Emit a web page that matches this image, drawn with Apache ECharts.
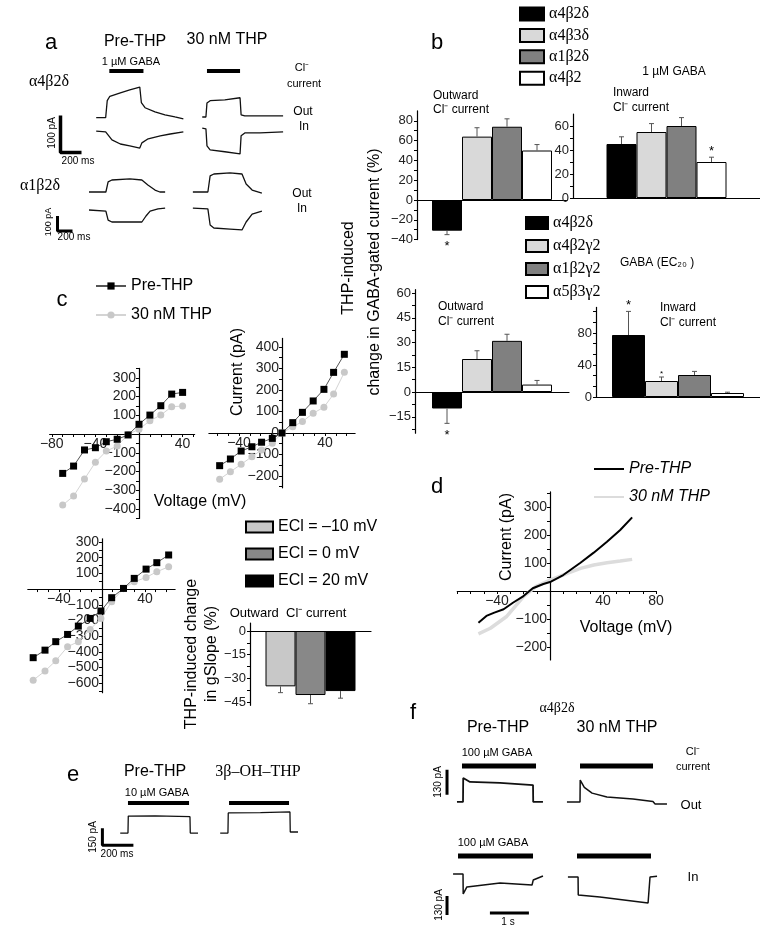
<!DOCTYPE html>
<html>
<head>
<meta charset="utf-8">
<script src="https://cdn.jsdelivr.net/npm/echarts@6/dist/echarts.min.js"></script>
<style>
  html, body { margin: 0; padding: 0; background: #fff; }
  #chart { width: 760px; height: 944px; }
</style>
</head>
<body>
<div id="chart"></div>
<script>
// ---------- data ----------
// panel b, 1 uM GABA
var topGenotypes = ['α4β2δ', 'α4β3δ', 'α1β2δ', 'α4β2'];
var topOutward = [-31, 64, 74, 50];
var topOutwardErr = [4, 9, 8, 6];
var topOutwardSig = [1, 0, 0, 0];
var topInward = [45, 55, 60, 30];
var topInwardErr = [6, 7, 7, 4];
var topInwardSig = [0, 0, 0, 1];
// panel b, GABA EC20
var ecGenotypes = ['α4β2δ', 'α4β2γ2', 'α1β2γ2', 'α5β3γ2'];
var ecOutward = [-10, 20, 31, 4.5];
var ecOutwardErr = [9, 5, 4, 2.5];
var ecOutwardSig = [1, 0, 0, 0];
var ecInward = [77.5, 20, 27.5, 5];
var ecInwardErr = [29.5, 5, 4.5, 1];
var ecInwardSig = [1, 0.5, 0, 0];
// panel c, gSlope
var eclLabels = ['ECl = –10 mV', 'ECl = 0 mV', 'ECl = 20 mV'];
var gSlope = [-35, -40.5, -38];
var gSlopeErr = [4, 5.5, 4.5];

// panel c, I-V curves (mV, pA)
var ivC1Volt = [-70, -60, -50, -40, -30, -20, -10, 0, 10, 20, 30, 40];
var ivC1Pre = [-210, -171, -85, -73, -41, -28, -5, 52, 101, 151, 213, 222];
var ivC1Thp = [-379, -331, -240, -151, -91, -64, -2, 25, 71, 101, 146, 149];
var ivC2Volt = [-58, -48, -38, -28, -19, -9, 0, 10, 19, 29, 39, 48, 58];
var ivC2Pre = [-152, -121, -84, -64, -43, -25, 0, 48, 96, 149, 203, 282, 366];
var ivC2Thp = [-215, -180, -146, -110, -79, -48, 0, 29, 53, 92, 120, 181, 282];
var ivC3Volt = [-64, -53, -43, -32, -22, -11, -1, 9, 20, 30, 41, 51, 62];
var ivC3Pre = [-437, -389, -335, -289, -236, -187, -140, -55, 4, 68, 127, 168, 217];
var ivC3Thp = [-580, -522, -457, -367, -335, -257, -187, -81, 4, 46, 74, 110, 142];
// panel d, ramp I-V
var rampPreVolt = [-54, -48, -42, -35, -28, -20, -13, -5, 0, 10, 23, 33, 43, 53, 62];
var rampPreCur = [-113, -89, -77, -65, -42, -18, 10, 25, 32, 57, 101, 137, 176, 218, 263];
var rampThpVolt = [-54, -45, -33, -20, -10, 0, 13, 23, 33, 43, 53, 62];
var rampThpCur = [-153, -133, -92, -20, 18, 39, 63, 81, 93, 101, 107, 113];

// tick labels
var b1Labels = [-40, -20, 0, 20, 40, 60, 80];
var b1Ticks = [-40, -30, -20, -10, 0, 10, 20, 30, 40, 50, 60, 70, 80];
var b2Labels = [0, 20, 40, 60];
var b2Ticks = [0, 10, 20, 30, 40, 50, 60];
var b3Labels = [-15, 0, 15, 30, 45, 60];
var b3Ticks = [-22.5, -15, -7.5, 0, 7.5, 15, 22.5, 30, 37.5, 45, 52.5, 60];
var b4Labels = [0, 40, 80];
var b4Ticks = [0, 13.3, 26.7, 40, 53.3, 66.7, 80, 93.3, 106.7];
var gsLabels = [0, -15, -30, -45];
var gsTicks = [0, -7.5, -15, -22.5, -30, -37.5, -45];
var c1XLabels = [-80, -40, 40];
var c1YLabels = [-400, -300, -200, -100, 100, 200, 300];
var c2XLabels = [-40, 40];
var c2YLabels = [-200, -100, 0, 100, 200, 300, 400];
var c3XLabels = [-40, 40];
var c3YLabels = [-600, -500, -400, -300, -200, -100, 100, 200, 300];
var dXLabels = [-40, 40, 80];
var dYLabels = [-200, -100, 100, 200, 300];
var mvTicks = [-80, -70, -60, -50, -40, -30, -20, -10, 0, 10, 20, 30, 40, 50, 60, 70, 80];
var paTicks = [-650, -600, -550, -500, -450, -400, -350, -300, -250, -200, -150, -100, -50, 0, 50, 100, 150, 200, 250, 300, 350, 400];

// current traces, [ms, pA]
var traceA1PreOut = [[440,114],[530,114],[545,160],[570,172],[670,181],[760,189],[855,197],[870,155],[905,141],[1000,130],[1095,122],[1190,116],[1270,111]];
var traceA1PreIn = [[440,78],[530,76],[590,54],[670,43],[760,38],[855,32],[875,46],[935,57],[1050,65],[1145,70],[1270,76]];
var traceA1ThpOut = [[1450,116],[1485,116],[1495,154],[1525,160],[1665,162],[1810,168],[1820,122],[1855,119],[2000,119],[2220,119]];
var traceA1ThpIn = [[1450,86],[1485,84],[1495,38],[1525,27],[1665,22],[1810,16],[1820,65],[1855,73],[2000,73],[2220,76]];
var traceA2PreOut = [[520,320],[745,320],[775,387],[825,400],[1065,407],[1225,400],[1305,367],[1400,333],[1465,320],[1535,320]];
var traceA2PreIn = [[520,200],[745,193],[775,133],[825,120],[1065,120],[1225,120],[1280,160],[1335,193],[1440,207],[1535,213]];
var traceA2ThpOut = [[1905,320],[2105,320],[2135,427],[2185,440],[2400,447],[2560,440],[2615,373],[2695,333],[2825,313]];
var traceA2ThpIn = [[1905,213],[2105,207],[2135,100],[2185,80],[2400,73],[2560,67],[2615,120],[2695,173],[2825,193]];
var traceEPre = [[195,238],[245,238],[247,388],[420,390],[645,382],[647,238],[697,238]];
var traceE3b = [[840,238],[890,238],[892,415],[1100,418],[1290,424],[1292,247],[1342,247]];
var traceFOutPre = [[435,42],[590,42],[595,167],[770,146],[1540,141],[2385,130],[2390,42],[2640,42]];
var traceFOutThp = [[3255,42],[3590,42],[3595,156],[3700,118],[3900,88],[4280,68],[4950,57],[5460,44],[5515,31],[5820,31]];
var traceFInPre = [[335,384],[590,384],[595,247],[690,295],[1540,322],[2360,308],[2390,342],[2640,370]];
var traceFInThp = [[3280,363],[3540,363],[3545,240],[4100,226],[5335,185],[5385,363],[5565,368]];

// GABA application bars [start ms, end ms] and scale bars
var gabaA1 = [[565, 890], [1495, 1810]];
var gabaE = [[245, 639], [897, 1284]];
var gabaFOut = [[564, 2462], [3590, 5462]];
var gabaFIn = [[462, 2385], [3513, 5410]];
var scaleA1 = [[100, 120], [100, 20], [300, 20]];
var scaleA2 = [[100, 160], [100, 60], [300, 60]];
var scaleE = [[80, 280], [80, 130], [280, 130]];
var scaleFOut = [[180, 80], [180, 210]];
var scaleFIn = [[180, 103], [180, 233]];
var timeBarFIn = [[1280, 116], [2280, 116]];

// ---------- building ----------
var sans = '"Liberation Sans", Arial, sans-serif';
var serif = '"Liberation Serif", "Times New Roman", serif';
var barColors = ['#000000', '#d9d9d9', '#808080', '#ffffff'];
var gsColors = ['#c8c8c8', '#888888', '#000000'];

var grids = [], xAxes = [], yAxes = [], series = [];

function minus(v) { return String(v).replace('-', '−'); }

function addGrid(box, xa, ya) {
  var gi = grids.length;
  grids.push({ left: box[0], top: box[1], width: box[2], height: box[3] });
  xa.gridIndex = gi;
  ya.gridIndex = gi;
  xAxes.push(xa);
  yAxes.push(ya);
  return gi;
}

function tracePanel(box, xr, yr, lines) {
  var gi = addGrid(box,
    { type: 'value', min: xr[0], max: xr[1], show: false },
    { type: 'value', min: yr[0], max: yr[1], show: false });
  lines.forEach(function (l) {
    series.push({
      type: 'line', xAxisIndex: gi, yAxisIndex: gi, data: l.data,
      symbol: 'none', silent: true, clip: false,
      lineStyle: { color: l.color || '#111', width: l.width || 1.3 }
    });
  });
}

function gabaLines(bars, level, w) {
  return bars.map(function (b) {
    return { data: [[b[0], level], [b[1], level]], width: w, color: '#000' };
  });
}

function errRender(bw, n) {
  return function (params, api) {
    var v = api.value(1), e = api.value(2), sig = api.value(3), i = api.value(4);
    var sgn = v < 0 ? -1 : 1;
    var base = api.coord([0, v]);
    var end = api.coord([0, v + sgn * e]);
    var x = base[0] + (i - (n - 1) / 2) * bw;
    var kids = [
      { type: 'line', shape: { x1: x, y1: base[1], x2: x, y2: end[1] }, style: { stroke: '#555', lineWidth: 1 } },
      { type: 'line', shape: { x1: x - 2.5, y1: end[1], x2: x + 2.5, y2: end[1] }, style: { stroke: '#555', lineWidth: 1 } }
    ];
    if (sig > 0) {
      kids.push({ type: 'text', style: {
        text: '*', x: x, y: end[1] - sgn * (sig < 1 ? 6 : 9) + 3,
        font: (sig < 1 ? 8 : 13) + 'px ' + sans, fill: '#000', align: 'center', verticalAlign: 'middle'
      } });
    }
    return { type: 'group', children: kids };
  };
}

function barChart(box, yr, labels, ticks, names, colors, vals, errs, sig, bw) {
  var gi = addGrid(box,
    { type: 'category', data: [''], axisLine: { onZero: true, lineStyle: { color: '#000', width: 1.2 } },
      axisTick: { show: false }, axisLabel: { show: false } },
    { type: 'value', min: yr[0], max: yr[1], splitLine: { show: false },
      axisLine: { show: true, lineStyle: { color: '#000', width: 1.2 } },
      axisTick: { show: true, length: 3, customValues: ticks, lineStyle: { color: '#000' } },
      axisLabel: { customValues: labels, formatter: minus, fontSize: 13, color: '#222', margin: 4, fontFamily: sans } });
  names.forEach(function (n, i) {
    series.push({
      type: 'bar', name: n, xAxisIndex: gi, yAxisIndex: gi, data: [vals[i]],
      barWidth: bw, barGap: '0%', silent: true,
      itemStyle: { color: colors[i], borderColor: '#000', borderWidth: 1 }
    });
  });
  series.push({
    type: 'custom', xAxisIndex: gi, yAxisIndex: gi, silent: true, z: 5,
    renderItem: errRender(bw, names.length),
    data: vals.map(function (v, i) { return [0, v, errs[i], sig[i], i]; })
  });
}

function pairs(xs, ys) { return xs.map(function (x, i) { return [x, ys[i]]; }); }

// axes cross at the origin: shift each whole axis (line, ticks, labels) onto zero
function ivChart(box, xr, yr, xLabels, yLabels, sets) {
  var xShift = box[2] * (0 - xr[0]) / (xr[1] - xr[0]);
  var yShift = box[3] * (0 - yr[0]) / (yr[1] - yr[0]);
  var gi = addGrid(box,
    { type: 'value', min: xr[0], max: xr[1], position: 'bottom', offset: -yShift, splitLine: { show: false },
      axisLine: { show: true, onZero: false, lineStyle: { color: '#000', width: 1.2 } },
      axisTick: { show: true, length: 3, customValues: mvTicks.filter(function (t) { return t >= xr[0] && t <= xr[1]; }), lineStyle: { color: '#000' } },
      axisLabel: { customValues: xLabels, formatter: minus, fontSize: 14, color: '#222', margin: 3, fontFamily: sans } },
    { type: 'value', min: yr[0], max: yr[1], position: 'left', offset: -xShift, splitLine: { show: false },
      axisLine: { show: true, onZero: false, lineStyle: { color: '#000', width: 1.2 } },
      axisTick: { show: true, length: 3, customValues: paTicks.filter(function (t) { return t >= yr[0] && t <= yr[1]; }), lineStyle: { color: '#000' } },
      axisLabel: { customValues: yLabels, formatter: minus, fontSize: 14, color: '#222', margin: 3, fontFamily: sans } });
  sets.forEach(function (s) {
    series.push(Object.assign({ type: 'line', xAxisIndex: gi, yAxisIndex: gi, silent: true }, s));
  });
}

function preSet(data) {
  return { name: 'Pre-THP', data: data, symbol: 'rect', symbolSize: 7, z: 4,
    itemStyle: { color: '#000' }, lineStyle: { color: '#555', width: 1 } };
}
function thpSet(data) {
  return { name: '30 nM THP', data: data, symbol: 'circle', symbolSize: 7, z: 3,
    itemStyle: { color: '#c8c8c8' }, lineStyle: { color: '#d4d4d4', width: 1 } };
}

// panel a
tracePanel([50, 60, 262.5, 99.9], [0, 2500], [0, 270], [
  { data: traceA1PreOut }, { data: traceA1PreIn }, { data: traceA1ThpOut }, { data: traceA1ThpIn },
  { data: scaleA1, width: 3.5, color: '#000' }
].concat(gabaLines(gabaA1, 240, 4)));
tracePanel([50, 165, 225, 75], [0, 3000], [0, 500], [
  { data: traceA2PreOut }, { data: traceA2PreIn }, { data: traceA2ThpOut }, { data: traceA2ThpIn },
  { data: scaleA2, width: 3, color: '#000' }
]);

// panel b
barChart([417, 110.9, 150, 128.7], [-40, 90], b1Labels, b1Ticks, topGenotypes, barColors,
  topOutward, topOutwardErr, topOutwardSig, 30);
barChart([573, 114, 190, 84], [0, 70], b2Labels, b2Ticks, topGenotypes, barColors,
  topInward, topInwardErr, topInwardSig, 30);
barChart([415, 289.7, 154, 143.55], [-25, 62], b3Labels, b3Ticks, ecGenotypes, barColors,
  ecOutward, ecOutwardErr, ecOutwardSig, 30);
barChart([596, 307.4, 165, 89.6], [0, 112], b4Labels, b4Ticks, ecGenotypes, barColors,
  ecInward, ecInwardErr, ecInwardSig, 33);

// panel c
ivChart([49.6, 368.4, 145, 150], [-82, 51], [-450, 350], c1XLabels, c1YLabels,
  [thpSet(pairs(ivC1Volt, ivC1Thp)), preSet(pairs(ivC1Volt, ivC1Pre))]);
ivChart([208.9, 338.4, 146.2, 149.4], [-68, 68], [-255, 440], c2XLabels, c2YLabels,
  [thpSet(pairs(ivC2Volt, ivC2Thp)), preSet(pairs(ivC2Volt, ivC2Pre))]);
ivChart([27.8, 538.8, 147.3, 153.9], [-69, 68], [-660, 320], c3XLabels, c3YLabels,
  [thpSet(pairs(ivC3Volt, ivC3Thp)), preSet(pairs(ivC3Volt, ivC3Pre))]);
barChart([250, 623.1, 121, 82.2], [-47, 5], gsLabels, gsTicks, eclLabels, gsColors,
  gSlope, gSlopeErr, [0, 0, 0], 30);

// panel d
ivChart([457.25, 491.9, 198.75, 168], [-70, 80], [-246, 354], dXLabels, dYLabels, [
  { name: 'd: 30 nM THP', data: pairs(rampThpVolt, rampThpCur), symbol: 'none', z: 3,
    itemStyle: { color: '#dcdcdc' }, lineStyle: { color: '#dcdcdc', width: 3.5 } },
  { name: 'd: Pre-THP', data: pairs(rampPreVolt, rampPreCur), symbol: 'none', z: 4,
    itemStyle: { color: '#000' }, lineStyle: { color: '#000', width: 2 } }
]);

// panel e
tracePanel([90, 792, 217, 68], [0, 1400], [0, 600], [
  { data: traceEPre }, { data: traceE3b },
  { data: scaleE, width: 3, color: '#000' }
].concat(gabaLines(gabaE, 503, 4)));

// panel f
tracePanel([440, 752.4, 234, 57.6], [0, 6000], [0, 300], [
  { data: traceFOutPre, width: 1.8 }, { data: traceFOutThp, width: 1.5 },
  { data: scaleFOut, width: 3, color: '#000' }
].concat(gabaLines(gabaFOut, 229, 5)));
tracePanel([440, 845.3, 234, 84.7], [0, 6000], [0, 580], [
  { data: traceFInPre, width: 1.5 }, { data: traceFInThp, width: 1.5 },
  { data: scaleFIn, width: 3, color: '#000' },
  { data: timeBarFIn, width: 3, color: '#000' }
].concat(gabaLines(gabaFIn, 507, 5)));

// ---------- texts ----------
function label(x, y, s, size, opt) {
  opt = opt || {};
  return {
    type: 'text', x: x, y: y, rotation: opt.rot ? Math.PI / 2 : 0, silent: true, z: 10,
    style: {
      text: s, x: 0, y: 0, fill: '#000',
      font: (opt.italic ? 'italic ' : '') + size + 'px ' + (opt.serif ? serif : sans),
      align: opt.align || 'center', verticalAlign: 'middle'
    }
  };
}

var texts = [
  label(51, 43, 'a', 22), label(437, 43, 'b', 22), label(62, 300, 'c', 22),
  label(437, 487, 'd', 22), label(73, 775, 'e', 22), label(413, 713, 'f', 22),
  // a
  label(135, 42, 'Pre-THP', 16), label(227, 40, '30 nM THP', 16),
  label(131, 62, '1 µM GABA', 11),
  label(302, 68, 'Cl⁻', 11), label(304, 84, 'current', 11),
  label(49, 82, 'α4β2δ', 16, { serif: true }),
  label(303, 112, 'Out', 12), label(304, 127, 'In', 12),
  label(52, 133, '100 pA', 10, { rot: true }), label(78, 161, '200 ms', 10),
  label(40, 186, 'α1β2δ', 16, { serif: true }),
  label(302, 194, 'Out', 12), label(302, 209, 'In', 12),
  label(49, 222, '100 pA', 9, { rot: true }), label(74, 237, '200 ms', 10),
  // b
  label(674, 72, '1 µM GABA', 12),
  label(433, 96, 'Outward', 12, { align: 'left' }), label(433, 110, 'Cl⁻ current', 12, { align: 'left' }),
  label(613, 93, 'Inward', 12, { align: 'left' }), label(613, 108, 'Cl⁻ current', 12, { align: 'left' }),
  label(620, 263, 'GABA (EC₂₀ )', 12, { align: 'left' }),
  label(438, 307, 'Outward', 12, { align: 'left' }), label(438, 322, 'Cl⁻ current', 12, { align: 'left' }),
  label(660, 308, 'Inward', 12, { align: 'left' }), label(660, 323, 'Cl⁻ current', 12, { align: 'left' }),
  label(349, 268, 'THP-induced', 16, { rot: true }),
  label(375, 272, 'change in GABA-gated current (%)', 16, { rot: true }),
  // c
  label(200, 502, 'Voltage (mV)', 16), label(238, 372, 'Current (pA)', 16, { rot: true }),
  label(288, 613, 'Outward  Cl⁻ current', 13),
  label(192, 654, 'THP-induced change', 16, { rot: true }),
  label(212, 654, 'in gSlope (%)', 16, { rot: true }),
  // d
  label(507, 537, 'Current (pA)', 16, { rot: true }), label(626, 628, 'Voltage (mV)', 16),
  // e
  label(155, 772, 'Pre-THP', 16), label(258, 772, '3β–OH–THP', 16, { serif: true }),
  label(157, 793, '10 µM GABA', 11),
  label(93, 837, '150 pA', 10, { rot: true }), label(117, 854, '200 ms', 10),
  // f
  label(557, 708, 'α4β2δ', 14, { serif: true }),
  label(498, 728, 'Pre-THP', 16), label(617, 728, '30 nM THP', 16),
  label(497, 753, '100 µM GABA', 11),
  label(693, 752, 'Cl⁻', 11), label(693, 767, 'current', 11),
  label(691, 805, 'Out', 13),
  label(493, 843, '100 µM GABA', 11),
  label(693, 877, 'In', 13),
  label(438, 782, '130 pA', 10, { rot: true }), label(439, 905, '130 pA', 10, { rot: true }),
  label(508, 922, '1 s', 10)
];

var chart = echarts.init(document.getElementById('chart'));
chart.setOption({
  animation: false,
  backgroundColor: '#fff',
  grid: grids,
  xAxis: xAxes,
  yAxis: yAxes,
  legend: [
    { left: 519, top: 6, padding: 0, orient: 'vertical', icon: 'rect', itemWidth: 24, itemHeight: 13, itemGap: 5.4,
      selectedMode: false, data: topGenotypes,
      textStyle: { fontFamily: serif, fontSize: 16, color: '#000' } },
    { left: 525, top: 215, padding: 0, orient: 'vertical', icon: 'rect', itemWidth: 22, itemHeight: 12, itemGap: 7,
      selectedMode: false, data: ecGenotypes,
      textStyle: { fontFamily: serif, fontSize: 16, color: '#000' } },
    { left: 95, top: 278, padding: 0, orient: 'vertical', itemWidth: 30, itemHeight: 9, itemGap: 13,
      selectedMode: false, data: ['Pre-THP', '30 nM THP'],
      textStyle: { fontFamily: sans, fontSize: 16, color: '#000' } },
    { left: 245, top: 519, padding: 0, orient: 'vertical', icon: 'rect', itemWidth: 27, itemHeight: 11, itemGap: 11,
      selectedMode: false, data: eclLabels,
      textStyle: { fontFamily: sans, fontSize: 16, color: '#000' } },
    { left: 593, top: 461, padding: 0, orient: 'vertical', itemWidth: 30, itemHeight: 14, itemGap: 12,
      selectedMode: false, data: ['d: Pre-THP', 'd: 30 nM THP'],
      itemStyle: { opacity: 0 },
      formatter: function (n) { return n.replace('d: ', ''); },
      textStyle: { fontFamily: sans, fontSize: 16, fontStyle: 'italic', color: '#000' } }
  ],
  graphic: texts,
  series: series
});
</script>
</body>
</html>
